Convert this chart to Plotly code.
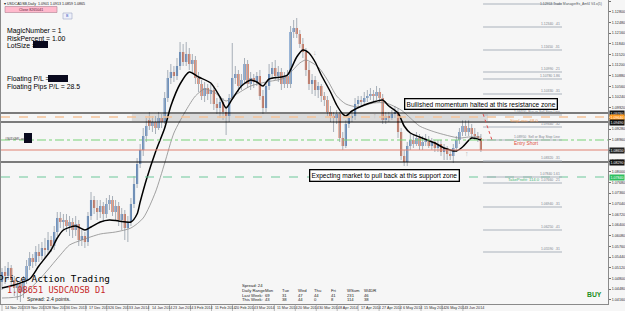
import plotly.graph_objects as go

# ---------------- data ----------------
OPEN = [1.0469,1.0499,1.0487,1.0511,1.0475,1.0451,1.0463,1.0439,1.0475,1.0517,
        1.0541,1.0529,1.0559,1.0547,1.0571,1.0565,1.0595,1.0577,1.0619,1.0661,
        1.0649,1.0655,1.0637,1.0649,1.0625,1.0643,1.0595,1.0607,1.0589,1.0667,
        1.0715,1.0691,1.0679,1.0697,1.0673,1.0703,1.0715,1.0679,1.0697,1.0655,
        1.0673,1.0631,1.0649,1.0703,1.0763,1.0823,1.0865,1.0907,1.0955,1.0937,
        1.0949,1.0931,1.0961,1.0949,1.1021,1.1081,1.1099,1.1087,1.1117,1.1159,
        1.1129,1.1153,1.1123,1.1135,1.1081,1.1063,1.1027,1.1051,1.1033,1.1045,
        1.1003,1.0991,1.1009,1.0979,1.0967,1.1021,1.1081,1.1093,1.1057,1.1075,
        1.1123,1.1063,1.1081,1.1069,1.1087,1.1027,1.0991,1.1057,1.1093,1.1111,
        1.1087,1.1099,1.1063,1.1087,1.1063,1.1219,1.1231,1.1213,1.1183,1.1159,
        1.1105,1.1063,1.1075,1.1045,1.1057,1.1027,1.1015,1.0979,1.0967,1.0961,
        1.0973,1.0901,1.0877,1.0943,1.0961,1.0967,1.1003,1.1015,1.1009,1.1021,
        1.1027,1.1033,1.1027,1.1039,1.1021,1.0955,1.0967,1.0961,1.0973,1.0979,
        1.0919,1.0847,1.0829,1.0877,1.0895,1.0883,1.0901,1.0877,1.0889,1.0895,
        1.0877,1.0889,1.0871,1.0883,1.0859,1.0871,1.0853,1.0847,1.0871,1.0895,
        1.0919,1.0937,1.0919,1.0931,1.0913,1.0907,1.0901]
CLOSE = [1.0499,1.0487,1.0511,1.0475,1.0451,1.0463,1.0439,1.0475,1.0517,1.0541,
         1.0529,1.0559,1.0547,1.0571,1.0565,1.0595,1.0577,1.0619,1.0661,1.0649,
         1.0655,1.0637,1.0649,1.0625,1.0643,1.0595,1.0607,1.0589,1.0667,1.0715,
         1.0691,1.0679,1.0697,1.0673,1.0703,1.0715,1.0679,1.0697,1.0655,1.0673,
         1.0631,1.0649,1.0703,1.0763,1.0823,1.0865,1.0907,1.0937,1.0937,1.0949,
         1.0931,1.0961,1.0949,1.1021,1.1081,1.1099,1.1087,1.1117,1.1159,1.1129,
         1.1153,1.1123,1.1135,1.1081,1.1063,1.1027,1.1051,1.1033,1.1045,1.1003,
         1.0991,1.1009,1.0979,1.0967,1.1021,1.1081,1.1093,1.1057,1.1075,1.1123,
         1.1063,1.1081,1.1069,1.1087,1.1027,1.0991,1.1057,1.1093,1.1111,1.1087,
         1.1099,1.1063,1.1087,1.1063,1.1219,1.1231,1.1213,1.1183,1.1159,1.1105,
         1.1063,1.1075,1.1045,1.1057,1.1027,1.1015,1.0979,1.0967,1.0961,1.0973,
         1.0901,1.0877,1.0943,1.0961,1.0967,1.1003,1.1015,1.1009,1.1021,1.1027,
         1.1033,1.1027,1.1039,1.1021,1.0955,1.0967,1.0961,1.0973,1.0979,1.0919,
         1.0847,1.0829,1.0877,1.0895,1.0883,1.0901,1.0877,1.0889,1.0895,1.0877,
         1.0889,1.0871,1.0883,1.0859,1.0871,1.0853,1.0847,1.0871,1.0895,1.0919,
         1.0937,1.0919,1.0931,1.0913,1.0907,1.0901,1.0865]
HIGH = [1.0511,1.0517,1.0529,1.0520,1.0487,1.0475,1.0475,1.0487,1.0535,1.0559,
        1.0553,1.0577,1.0583,1.0589,1.0601,1.0619,1.0607,1.0637,1.0679,1.0679,
        1.0673,1.0673,1.0667,1.0661,1.0667,1.0655,1.0625,1.0619,1.0679,1.0739,
        1.0727,1.0715,1.0715,1.0709,1.0721,1.0730,1.0727,1.0715,1.0709,1.0691,
        1.0685,1.0667,1.0721,1.0787,1.0841,1.0883,1.0931,1.0961,1.0979,1.0967,
        1.0967,1.0979,1.0973,1.1039,1.1105,1.1123,1.1117,1.1141,1.1189,1.1183,
        1.1189,1.1171,1.1153,1.1147,1.1099,1.1075,1.1069,1.1063,1.1063,1.1057,
        1.1021,1.1027,1.1021,1.0997,1.1033,1.1186,1.1117,1.1105,1.1093,1.1141,
        1.1135,1.1099,1.1093,1.1099,1.1105,1.1045,1.1069,1.1123,1.1129,1.1135,
        1.1117,1.1111,1.1099,1.1105,1.1237,1.1255,1.1261,1.1225,1.1201,1.1171,
        1.1129,1.1093,1.1087,1.1069,1.1063,1.1039,1.1027,1.0997,1.0979,1.0985,
        1.0979,1.0919,1.0955,1.0973,1.0979,1.1021,1.1027,1.1027,1.1039,1.1045,
        1.1051,1.1045,1.1057,1.1051,1.1033,1.0979,1.0979,1.0985,1.0997,1.0991,
        1.0931,1.0865,1.0889,1.0913,1.0913,1.0919,1.0913,1.0907,1.0913,1.0907,
        1.0901,1.0895,1.0895,1.0895,1.0883,1.0877,1.0865,1.0883,1.0907,1.0931,
        1.0955,1.0955,1.0955,1.0943,1.0931,1.0919,1.0913]
LOW = [1.0445,1.0463,1.0475,1.0457,1.0427,1.0415,1.0409,1.0421,1.0463,1.0505,
       1.0511,1.0517,1.0529,1.0535,1.0541,1.0553,1.0559,1.0565,1.0607,1.0631,
       1.0625,1.0619,1.0607,1.0601,1.0607,1.0577,1.0577,1.0571,1.0577,1.0655,
       1.0673,1.0655,1.0661,1.0649,1.0661,1.0685,1.0667,1.0655,1.0637,1.0625,
       1.0595,1.0589,1.0637,1.0691,1.0751,1.0811,1.0847,1.0889,1.0925,1.0919,
       1.0913,1.0925,1.0931,1.0943,1.1009,1.1063,1.1069,1.1075,1.1105,1.1117,
       1.1117,1.1105,1.1099,1.1063,1.1039,1.1015,1.1009,1.1015,1.1003,1.0985,
       1.0973,1.0961,1.0955,1.0910,1.0949,1.1015,1.1063,1.1039,1.1045,1.1063,
       1.1051,1.1045,1.1051,1.1057,1.1015,1.0973,1.0979,1.1045,1.1081,1.1075,
       1.1069,1.1045,1.1051,1.1051,1.1051,1.1201,1.1201,1.1171,1.1141,1.1087,
       1.1045,1.1033,1.1027,1.1021,1.1009,1.0997,1.0967,1.0949,1.0919,1.0943,
       1.0889,1.0865,1.0871,1.0931,1.0949,1.0955,1.0991,1.0997,1.1003,1.1009,
       1.1015,1.1009,1.1015,1.1009,1.0943,1.0943,1.0949,1.0955,1.0961,1.0901,
       1.0835,1.0817,1.0817,1.0865,1.0871,1.0877,1.0865,1.0865,1.0877,1.0871,
       1.0865,1.0859,1.0859,1.0847,1.0835,1.0835,1.0835,1.0826,1.0859,1.0883,
       1.0907,1.0907,1.0907,1.0901,1.0895,1.0889,1.0859]

# moving averages (bar index, price)
BLACK_MA_X = [0,4,9,12,16,18,20,24,27,29,32,35,38,42,44,45,47,50,53,55,58,61,64,68,71,73,75,78,81,83,
              85,87,91,93,96,98,100,102,104,107,109,111,112,114,118,121,124,126,129,131,133,136,141,144,
              148,150,153,156]
BLACK_MA_Y = [1.0451,1.0460,1.0478,1.0517,1.0565,1.0601,1.0625,1.0637,1.0625,1.0634,1.0649,1.0655,1.0652,
              1.0649,1.0673,1.0709,1.0775,1.0859,1.0931,1.0997,1.1063,1.1099,1.1084,1.1066,1.1024,1.0991,
              1.1018,1.1057,1.1075,1.1069,1.1057,1.1078,1.1084,1.1090,1.1144,1.1165,1.1156,1.1129,1.1090,
              1.1039,1.1000,1.0973,1.0967,1.0982,1.1000,1.1009,1.1015,1.0997,1.0976,1.0937,1.0916,1.0904,
              1.0886,1.0871,1.0862,1.0874,1.0901,1.0895]
GREY_MA_X = [0,6,12,19,22,26,32,37,42,46,50,53,56,60,63,66,69,73,76,81,86,92,97,99,103,106,109,112,116,
             121,125,130,133,136,141,149,152,156]
GREY_MA_Y = [1.0421,1.0427,1.0475,1.0550,1.0580,1.0595,1.0613,1.0619,1.0631,1.0661,1.0739,1.0826,1.0916,
             1.0985,1.1027,1.1048,1.1039,1.1012,1.1030,1.1057,1.1069,1.1081,1.1126,1.1135,1.1114,1.1075,
             1.1027,1.1003,1.0994,1.1006,1.1006,1.0985,1.0961,1.0937,1.0919,1.0901,1.0904,1.0904]

DATES = ["14 Nov 2013","19 Nov 2013","28 Nov 2013","6 Dec 2013","17 Dec 2013","26 Dec 2013",
         "3 Jan 2014","14 Jan 2014","23 Jan 2014","3 Feb 2014","11 Feb 2014","20 Feb 2014",
         "3 Mar 2014","11 Mar 2014","20 Mar 2014","30 Mar 2014","8 Apr 2014","17 Apr 2014",
         "27 Apr 2014","6 May 2014","15 May 2014","26 May 2014","3 Jun 2014"]

TICK_LABELS = ["1.13120","1.12800","1.12480","1.12160","1.11840","1.11520","1.11200","1.10880",
               "1.10560","1.10240","1.09920","1.09600","1.09280","1.08960","1.08640","1.08320",
               "1.08000","1.07680","1.07360","1.07040","1.06720","1.06400","1.06080","1.05760",
               "1.05440","1.05120","1.04800","1.04480","1.04160"]

# horizontal levels
RESIST_HI, RESIST_LO = 1.0976, 1.0949
STOP_LOSS = 1.0964
ENTRY = 1.0895
BID = 1.0865
SUPPORT = 1.0829
TAKE_PROFIT = 1.0784
ZONE = (42.3, 158.3, 1.0952, 1.0973)

FIB_LEVELS = [1.1303,1.1234,1.1165,1.1099,1.1078,1.1033,1.0970,1.0934,1.0895,1.0832,1.0784,1.0766,
              1.0694,1.0625,1.0559]
FIB_TEXT = ["1.12953 Trade ManagerEs_Amf4 V4.x(5)","1.12340  .41","1.11650  .31","1.10990  .21",
            "1.10780 1.86","1.10330  .31","1.09700  Buy or Sell Stop Line","1.09340  .32",
            "1.08950  Sell or Buy Stop Line","1.08320  .31","1.07840 1.61","1.07660  .21",
            "1.06940  .31","1.06250  .41","1.05590  .31"]

TABLE_COLS = ["Daily Range", "Mon", "Tue", "Wed", "Thu", "Fri", "WSum", "W4DR"]
LAST_WEEK = ["Last Week:", "69", "31", "47", "44", "41", "231", "46"]
THIS_WEEK = ["This Week:", "43", "38", "44", "0", "8", "114", "38"]

# ---------------- layout helpers ----------------
W, H = 625, 311
ML, MR, MT, MB = 1, 17, 0, 7
PW, PH = W - ML - MR, H - MT - MB
BAR_PX = 3.07
X0 = -(2 - ML) / BAR_PX
XR = [X0, X0 + PW / BAR_PX]


def PX(x):
    return (x - ML) / PW


def PY(y):
    return 1 - (y - MT) / PH


SANS = "Liberation Sans, Arial, sans-serif"
MONO = "DejaVu Sans Mono, Liberation Mono, monospace"
BULL, BEAR, WICK = "#3b71b5", "#d4532b", "#a7afb8"
BG = "#F6F6F6"

idx = list(range(len(OPEN)))
fig = go.Figure()

wx, wy = [], []
for i, (h, l) in enumerate(zip(HIGH, LOW)):
    wx += [i, i, None]
    wy += [l, h, None]
fig.add_trace(go.Scatter(x=wx, y=wy, mode="lines", line=dict(color=WICK, width=1),
                         hoverinfo="skip", showlegend=False))
fig.add_trace(go.Bar(x=idx, y=[abs(c - o) for o, c in zip(OPEN, CLOSE)],
                     base=[min(o, c) for o, c in zip(OPEN, CLOSE)], width=0.7,
                     marker=dict(color=[BULL if c >= o else BEAR for o, c in zip(OPEN, CLOSE)],
                                 line=dict(width=0)),
                     hoverinfo="skip", showlegend=False))
fig.add_trace(go.Scatter(x=GREY_MA_X, y=GREY_MA_Y, mode="lines",
                         line=dict(color="#8a8a8a", width=0.8, shape="spline", smoothing=0.7),
                         hoverinfo="skip", showlegend=False))
fig.add_trace(go.Scatter(x=BLACK_MA_X, y=BLACK_MA_Y, mode="lines",
                         line=dict(color="black", width=1.5, shape="spline", smoothing=0.7),
                         hoverinfo="skip", showlegend=False))

shapes = []
shapes.append(dict(type="rect", xref="x", yref="y", x0=ZONE[0], x1=ZONE[1], y0=ZONE[2], y1=ZONE[3],
                   fillcolor="rgba(185,185,185,0.45)", line=dict(width=0), layer="below"))


def hline(y, color, width=1, dash="solid"):
    shapes.append(dict(type="line", xref="paper", yref="y", x0=0, x1=1, y0=y, y1=y,
                       line=dict(color=color, width=width, dash=dash), layer="above"))


hline(STOP_LOSS, "#f5c49a", 1.6, "dash")
hline(RESIST_HI, "black", 1.2)
hline(RESIST_LO, "black", 1.2)
hline(ENTRY, "#79d279", 1, "dashdot")
hline(BID, "#e08070", 1)
hline(SUPPORT, "black", 1.2)
hline(TAKE_PROFIT, "#6cc79a", 1.2, "dash")

for lv in FIB_LEVELS:
    shapes.append(dict(type="line", xref="x", yref="y", x0=156.7, x1=182.4, y0=lv, y1=lv,
                       line=dict(color="#a9b2bb", width=1.2), layer="above"))
shapes.append(dict(type="line", xref="x", yref="y", x0=156.7, x1=159.6, y0=1.0973, y1=1.0895,
                   line=dict(color="#e05050", width=1, dash="dot"), layer="above"))

for (x0, y0, x1, y1) in [(33, 41, 48, 48), (48, 75, 68, 82), (24, 133, 32, 143)]:
    shapes.append(dict(type="rect", xref="paper", yref="paper", x0=PX(x0), x1=PX(x1), y0=PY(y1),
                       y1=PY(y0), fillcolor="#0a0a1e", line=dict(width=0)))
shapes.append(dict(type="rect", xref="paper", yref="paper", x0=PX(5), x1=PX(57), y0=PY(12.5), y1=PY(6.5),
                   fillcolor="#ffb9cc", line=dict(color="#b08090", width=0.6)))
shapes.append(dict(type="rect", xref="paper", yref="paper", x0=PX(63), x1=PX(72), y0=PY(19), y1=PY(13),
                   fillcolor="#eef0fa", line=dict(color="#a0a8c8", width=0.6)))
for k in range(len(DATES)):
    xp = 2 + 20.95 * k
    shapes.append(dict(type="line", xref="paper", yref="paper", x0=PX(xp), x1=PX(xp), y0=PY(304),
                       y1=PY(311), line=dict(color="#909090", width=0.6)))

ann = []


def text(x, y, s, size, color="black", family=SANS, xanchor="left", **kw):
    ann.append(dict(xref="paper", yref="paper", x=PX(x), y=PY(y), text=s, showarrow=False,
                    font=dict(size=size, color=color, family=family), xanchor=xanchor,
                    yanchor="middle", **kw))


text(2, 3.6, "\u25be USDCADSB,Daily  %.4f %.4f %.4f %.4f" % (OPEN[-1], HIGH[-1], LOW[-1], CLOSE[-1]),
     3.6, "#202020")
text(31, 9.6, "Close 8265041", 3.6, "#602040", xanchor="center")
text(67.5, 16, "B", 3.6, "#3050c0", xanchor="center")
text(4.5, 31, "MagicNumber = 1", 6.9)
text(4.5, 38, "RiskPercent = 1.00", 6.9)
text(4.5, 45, "LotSize =", 6.9)
text(4.5, 79, "Floating P/L =", 6.9)
text(4.5, 86.5, "Floating Pips P/L = 28.5", 6.9)
text(3, 138.5, "#S0D0ML.wi", 3.4, "#404040")

text(480.5, 104, "Bullished momentum halted at this resistance zone", 6.6, xanchor="center",
     bgcolor="white", bordercolor="black", borderwidth=1.3, borderpad=1.2)
text(385, 175, "Expecting market to pull back at this support zone", 6.6, xanchor="center",
     bgcolor="white", bordercolor="black", borderwidth=1.3, borderpad=1.2)

text(508, 120, "StopLoss: 68.0", 4.2, "#f2a35e")
text(512, 143.5, "Entry Short", 4.8, "#e0503c")
text(506, 179.5, "TakeProfit: 114.0", 4.2, "#4cb87a")

for k, (lv, s) in enumerate(zip(FIB_LEVELS, FIB_TEXT)):
    if k == 0:
        ann.append(dict(xref="x", yref="y", x=174.5, y=lv, text=s, showarrow=False,
                        font=dict(size=3.4, color="#505860", family=SANS),
                        xanchor="left", yanchor="middle"))
    else:
        ann.append(dict(xref="x", yref="y", x=182.4, y=lv, text=s, showarrow=False,
                        font=dict(size=3.4, color="#7d858e", family=SANS),
                        xanchor="right", yanchor="bottom", yshift=-0.5))

for (x, y, s) in [(218, 85, "\u2193"), (315, 53, "\u2193"), (375, 115, "\u2191"), (467, 153, "\u2191")]:
    text(x, y, s, 7, "#b5b5b5", xanchor="center")

text(-4.5, 278, "Price Action Trading", 9.3, "black", MONO)
text(5, 289.5, "1.08651 USDCADSB D1", 8.6, "#c62828", MONO)
text(25, 299, "Spread: 2.4 points.", 5.2, "#202020")

cols = [240, 263, 280, 296, 312, 329, 345, 362]
text(240, 285, "Spread: 24", 4.2, "#202020")
for cx, a, b, c in zip(cols, TABLE_COLS, LAST_WEEK, THIS_WEEK):
    text(cx, 290.8, a, 4.2, "#202020")
    text(cx, 295, b, 4.2, "#202020")
    text(cx, 299, c, 4.2, "#202020")

text(594, 294, "<b>BUY</b>", 6.8, "#1f8f1f", xanchor="center")

for k, d in enumerate(DATES):
    text(2 + 20.95 * k + 1, 307.6, d, 3.7, "#303030")

for lv, col in [(RESIST_HI, "#111111"), (STOP_LOSS, "#ff9a1e"), (RESIST_LO, "#111111"),
                (BID, "#222222"), (SUPPORT, "#111111"), (TAKE_PROFIT, "#2fbf5f")]:
    ann.append(dict(xref="paper", yref="y", x=1, y=lv, text="%.5f" % lv, showarrow=False,
                    font=dict(size=3.6, color="white", family=SANS), xanchor="left", yanchor="middle",
                    bgcolor=col, borderpad=0.6, xshift=1))

fig.update_layout(
    width=W, height=H, margin=dict(l=ML, r=MR, t=MT, b=MB),
    paper_bgcolor=BG, plot_bgcolor=BG, showlegend=False,
    shapes=shapes, annotations=ann,
    xaxis=dict(range=XR, showgrid=False, zeroline=False, showticklabels=False, ticks="",
               showline=True, linecolor="#8a8a8a", linewidth=1, mirror=True, fixedrange=True),
    yaxis=dict(range=[1.0403, 1.1315], side="right", showgrid=False, zeroline=False,
               tickvals=[float(t) for t in TICK_LABELS], ticktext=TICK_LABELS,
               tickfont=dict(size=3.7, color="#303030", family=SANS), ticks="outside", ticklen=2,
               tickcolor="#707070", showline=True, linecolor="#8a8a8a", linewidth=1, mirror=True,
               fixedrange=True),
)

fig.write_html("out.html", config={"displayModeBar": False})
